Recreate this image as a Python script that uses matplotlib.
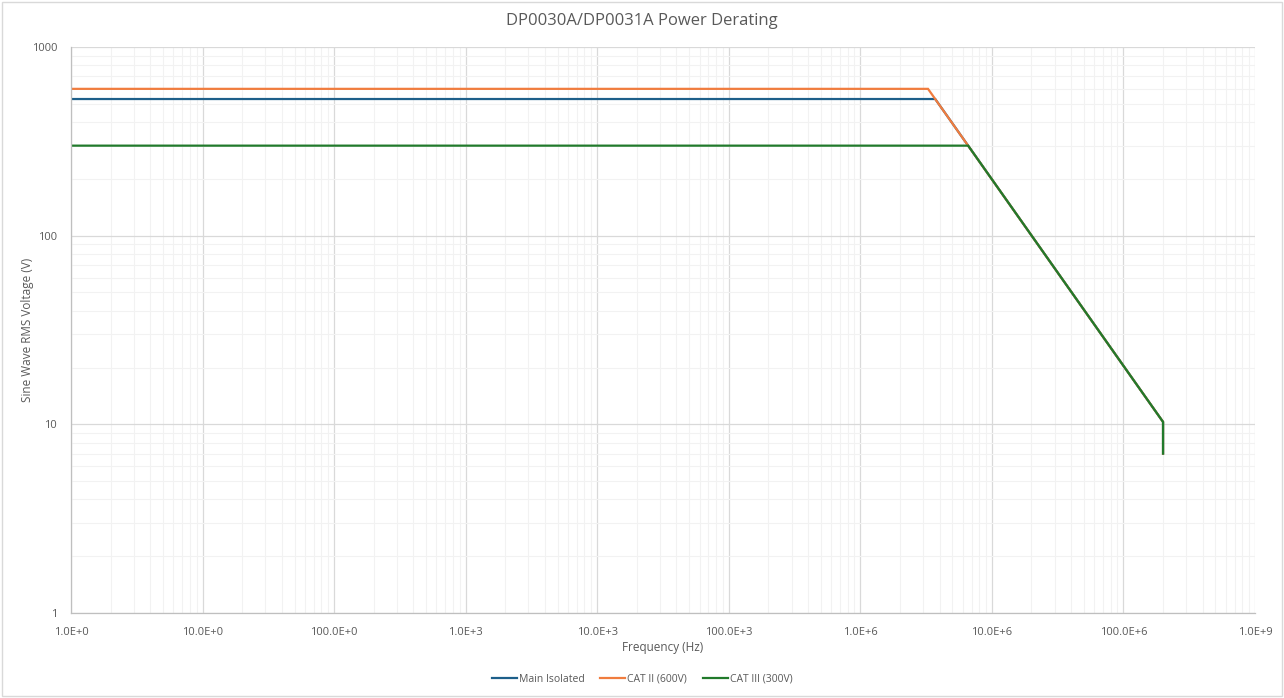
import matplotlib
matplotlib.use("Agg")
import matplotlib.pyplot as plt
from matplotlib.ticker import LogLocator, NullFormatter
from matplotlib.patches import Rectangle

# Data
series_names = ["Main Isolated", "CAT II (600V)", "CAT III (300V)"]
main_freq = [1, 3.71e6, 200e6, 200e6]
main_volt = [530, 530, 10.3, 7]
cat2_freq = [1, 3.27e6, 200e6, 200e6]
cat2_volt = [600, 600, 10.3, 7]
cat3_freq = [1, 6.6e6, 200e6, 200e6]
cat3_volt = [300, 300, 10.3, 7]
x_tick_labels = ["1.0E+0", "10.0E+0", "100.0E+0", "1.0E+3", "10.0E+3",
                 "100.0E+3", "1.0E+6", "10.0E+6", "100.0E+6", "1.0E+9"]
y_tick_labels = ["1", "10", "100", "1000"]

colors = ["#1d5f8a", "#f07c3e", "#217a2b"]
font = "Open Sans"
tcol = "#595959"

fig = plt.figure(figsize=(12.84, 6.98), dpi=100)
ax = fig.add_axes([71/1284, 1 - 613/698, (1255-71)/1284, (613-47)/698])

for f, v, c, n in zip([main_freq, cat2_freq, cat3_freq],
                      [main_volt, cat2_volt, cat3_volt], colors, series_names):
    ax.plot(f, v, color=c, lw=1.6, label=n, solid_joinstyle="miter")

ax.set_xscale("log")
ax.set_yscale("log")
ax.set_xlim(1, 1e9)
ax.set_ylim(1, 1000)

xt = [10**i for i in range(10)]
ax.set_xticks(xt)
ax.set_xticklabels(x_tick_labels)
yt = [1, 10, 100, 1000]
ax.set_yticks(yt)
ax.set_yticklabels(y_tick_labels)
ax.xaxis.set_minor_locator(LogLocator(base=10, subs=range(2, 10), numticks=100))
ax.yaxis.set_minor_locator(LogLocator(base=10, subs=range(2, 10), numticks=100))
ax.xaxis.set_minor_formatter(NullFormatter())
ax.yaxis.set_minor_formatter(NullFormatter())

ax.grid(True, which="major", color="#d9d9d9", lw=0.9)
ax.grid(True, which="minor", color="#f2f2f2", lw=0.8)
ax.set_axisbelow(True)
ax.tick_params(which="both", length=0)
ax.tick_params(axis="x", pad=10, labelsize=8, labelcolor=tcol)
ax.tick_params(axis="y", pad=10, labelsize=8, labelcolor=tcol)
for lab in ax.get_xticklabels() + ax.get_yticklabels():
    lab.set_family(font)

for s in ["top", "right"]:
    ax.spines[s].set_visible(False)
for s in ["left", "bottom"]:
    ax.spines[s].set_color("#bfbfbf")
    ax.spines[s].set_linewidth(0.9)

ax.set_xlabel("Frequency (Hz)", fontsize=8.5, color=tcol, family=font)
ax.set_ylabel("Sine Wave RMS Voltage (V)", fontsize=8.5, color=tcol, family=font)
ax.xaxis.set_label_coords(0.5, (613 - 647) / 566, transform=ax.transAxes)
ax.yaxis.set_label_coords((27 - 71) / 1184, 0.5, transform=ax.transAxes)
ax.xaxis.label.set_va("center")
ax.yaxis.label.set_va("center")
fig.text(0.5, 1 - 21/698, "DP0030A/DP0031A Power Derating", ha="center", va="center",
         fontsize=12, color=tcol, family=font)

leg = fig.legend(loc="center", bbox_to_anchor=(0.5, 1 - 679/698), ncol=3, frameon=False,
                 prop={"family": font, "size": 7.5}, handlelength=2.4, columnspacing=1.5,
                 handletextpad=0.2)
for t in leg.get_texts():
    t.set_color(tcol)

fig.patches.append(Rectangle((2/1284, 2/698), 1 - 4/1284, 1 - 4/698, transform=fig.transFigure,
                             fill=False, edgecolor="#d9d9d9", lw=1))

fig.savefig("out.png", dpi=100, facecolor="white")
